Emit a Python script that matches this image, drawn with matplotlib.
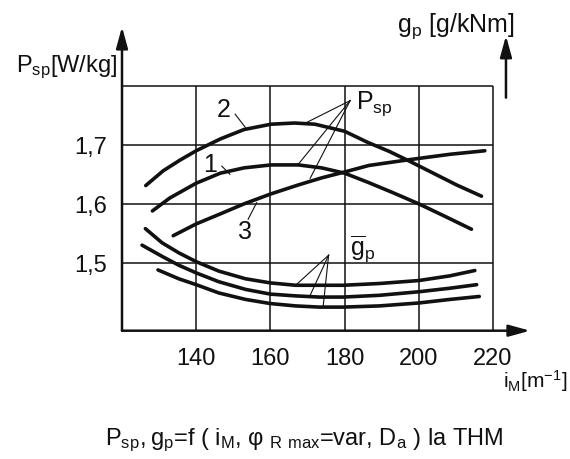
import matplotlib
matplotlib.use("Agg")
from matplotlib import pyplot as plt

# axis ticks / labels
x_ticks = [140, 160, 180, 200, 220]
y_ticks = [1.5, 1.6, 1.7]
y_tick_labels = ["1,5", "1,6", "1,7"]
grid_y = [1.5, 1.6, 1.7, 1.8]

# P_sp curves 1, 2, 3
psp1_x = [128.2, 132.9, 140, 146.5, 152.9, 160.2, 167.5, 173.8, 180, 186.5, 193, 200, 207, 214.2]
psp1_y = [1.588, 1.610, 1.635, 1.652, 1.661, 1.666, 1.666, 1.661, 1.652, 1.636, 1.619, 1.600, 1.579, 1.557]
psp2_x = [126.4, 131.1, 135.6, 140, 146.5, 152.9, 160.2, 166.5, 172, 180, 186.3, 192, 197.6, 203.9, 210.2, 216.9]
psp2_y = [1.631, 1.656, 1.674, 1.690, 1.710, 1.726, 1.735, 1.737, 1.735, 1.723, 1.704, 1.689, 1.672, 1.652, 1.632, 1.613]
psp3_x = [133.8, 140, 146.5, 152.9, 160.2, 167.5, 173.8, 180, 186.5, 192, 197.6, 208.4, 217.8]
psp3_y = [1.546, 1.566, 1.583, 1.600, 1.617, 1.632, 1.644, 1.654, 1.665, 1.670, 1.675, 1.684, 1.690]

# g_p curves (top, middle, bottom)
gp1_x = [126.3, 130.8, 135.3, 140, 146.1, 153.3, 160, 166.8, 173.2, 179.6, 189.4, 200, 208.4, 215.1]
gp1_y = [1.558, 1.534, 1.517, 1.502, 1.486, 1.473, 1.466, 1.462, 1.462, 1.462, 1.465, 1.470, 1.478, 1.487]
gp2_x = [125.4, 130.8, 135.3, 140, 146.1, 153.3, 160, 166.8, 173.2, 179.6, 189.4, 200, 208.4, 215.6]
gp2_y = [1.530, 1.511, 1.496, 1.483, 1.468, 1.455, 1.447, 1.444, 1.442, 1.442, 1.445, 1.451, 1.457, 1.463]
gp3_x = [129.7, 135.3, 140, 146.1, 153.3, 160, 166.8, 173.2, 179.6, 189.4, 200, 208.4, 216.3]
gp3_y = [1.488, 1.473, 1.463, 1.449, 1.438, 1.431, 1.427, 1.425, 1.425, 1.427, 1.432, 1.438, 1.443]

plt.rcParams["font.family"] = ["Liberation Sans", "DejaVu Sans"]
plt.rcParams["mathtext.default"] = "regular"

INK = "#111111"

fig = plt.figure(figsize=(5.7, 4.6), dpi=100)
ax = fig.add_axes([122 / 570, 1 - 331.7 / 460, (533.8 - 122) / 570, (331.7 - 24.9) / 460])
ax.set_xlim(120, 231)
ax.set_ylim(1.385, 1.905)
for s in ax.spines.values():
    s.set_visible(False)

ax.set_xticks(x_ticks)
ax.set_xticklabels([str(v) for v in x_ticks])
ax.set_yticks(y_ticks)
ax.set_yticklabels(y_tick_labels)
ax.tick_params(axis="x", length=0, labelsize=17, pad=12, colors=INK)
ax.tick_params(axis="y", length=0, labelsize=17, pad=11, colors=INK)

# grid
ax.hlines(grid_y, 120, 220, color=INK, lw=1.1)
ax.vlines(x_ticks, 1.385, 1.8, color=INK, lw=1.1)

# axes with arrows
arrow = dict(arrowstyle="-|>,head_length=0.8,head_width=0.22", lw=1.8,
             color=INK, mutation_scale=16, shrinkA=0, shrinkB=0)
ax.annotate("", xy=(230, 1.385), xytext=(120, 1.385), arrowprops=arrow, annotation_clip=False)
ax.annotate("", xy=(120, 1.9), xytext=(120, 1.385), arrowprops=arrow, annotation_clip=False)
ax.annotate("", xy=(223.5, 1.885), xytext=(223.5, 1.78), arrowprops=arrow, annotation_clip=False)

# curves
for xs, ys in [(psp1_x, psp1_y), (psp2_x, psp2_y), (psp3_x, psp3_y),
               (gp1_x, gp1_y), (gp2_x, gp2_y), (gp3_x, gp3_y)]:
    ax.plot(xs, ys, color=INK, lw=2.6, solid_capstyle="round", solid_joinstyle="round")

# leaders to labels
thin = dict(color=INK, lw=0.8)
for tx, ty in [(169.8, 1.738), (167.5, 1.667), (170.7, 1.643)]:
    ax.plot([181.5, tx], [1.775, ty], **thin)
for tx, ty in [(166.8, 1.462), (170.5, 1.442), (174.2, 1.425)]:
    ax.plot([175.7, tx], [1.513, ty], **thin)
ax.plot([150.5, 153.2], [1.752, 1.730], **thin)
ax.plot([146.9, 149.1], [1.664, 1.650], **thin)
ax.plot([154.0, 156.3], [1.574, 1.602], **thin)

ax.text(147.3, 1.760, "2", fontsize=18, ha="center", va="center", color=INK)
ax.text(143.7, 1.667, "1", fontsize=18, ha="center", va="center", color=INK)
ax.text(153.2, 1.554, "3", fontsize=18, ha="center", va="center", color=INK)
ax.text(183.0, 1.762, r"$\mathregular{P_{sp}}$", fontsize=18, ha="left", va="baseline", color=INK)
ax.text(181.4, 1.515, r"$\mathregular{\overline{g}_p}$", fontsize=18, ha="left", va="baseline", color=INK)

# axis titles and caption
fig.text(16 / 570, 1 - 71.7 / 460, r"$\mathregular{P_{sp}}$[W/kg]", fontsize=17,
         ha="left", va="baseline", color=INK)
fig.text(396.7 / 570, 1 - 31.7 / 460, r"$\mathregular{g_p}$ [g/kNm]", fontsize=18,
         ha="left", va="baseline", color=INK)
fig.text(503 / 570, 1 - 388 / 460, r"$\mathregular{i_M}$[m$^{-1}$]", fontsize=15,
         ha="left", va="baseline", color=INK)
fig.text(0.533, 1 - 445 / 460,
         r"$\mathregular{P_{sp},g_p}$=f ( $\mathregular{i_M}$, φ $\mathregular{_{R\ max}}$=var, $\mathregular{D_a}$ ) la THM",
         fontsize=17, ha="center", va="baseline", color=INK)

fig.savefig("out.png", dpi=100)
